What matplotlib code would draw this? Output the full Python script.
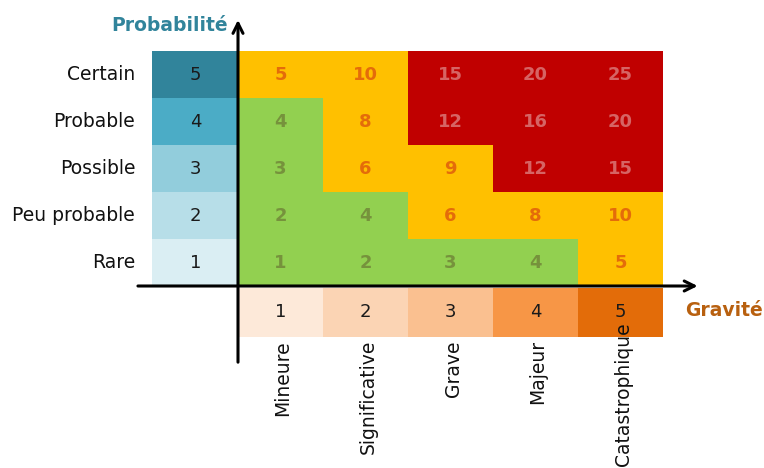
import numpy as np
import matplotlib.pyplot as plt
from matplotlib.patches import Rectangle

# Data
prob_labels = ["Rare", "Peu probable", "Possible", "Probable", "Certain"]
prob_levels = [1, 2, 3, 4, 5]
grav_labels = ["Mineure", "Significative", "Grave", "Majeur", "Catastrophique"]
grav_levels = [1, 2, 3, 4, 5]

# rows from Rare (bottom) to Certain (top)
scores = [
    [1, 2, 3, 4, 5],
    [2, 4, 6, 8, 10],
    [3, 6, 9, 12, 15],
    [4, 8, 12, 16, 20],
    [5, 10, 15, 20, 25],
]
zones = [
    ["G", "G", "G", "G", "Y"],
    ["G", "G", "Y", "Y", "Y"],
    ["G", "Y", "Y", "R", "R"],
    ["G", "Y", "R", "R", "R"],
    ["Y", "Y", "R", "R", "R"],
]

# Styles
zone_fill = {"G": "#92D050", "Y": "#FFC000", "R": "#C00000"}
zone_text = {"G": "#76923C", "Y": "#E46C0A", "R": "#D66464"}
prob_colors = ["#DAEEF3", "#B7DEE8", "#92CDDC", "#4BACC6", "#31849B"]
grav_colors = ["#FDE9D9", "#FBD4B4", "#FAC090", "#F79646", "#E36C09"]
FS = 13.5

plt.rcParams['font.family'] = ['DejaVu Sans']

fig = plt.figure(figsize=(7.64, 4.68), dpi=100)
ax = fig.add_axes([0, 0, 1, 1])
# one unit = one cell (85 x 47 px), origin at the axes crossing
ax.set_xlim(-238 / 85, (764 - 238) / 85)
ax.set_ylim(-(468 - 286) / 47, 286 / 47)
ax.axis('off')

# risk matrix
for i, row in enumerate(scores):
    for j, val in enumerate(row):
        z = zones[i][j]
        ax.add_patch(Rectangle((j, i), 1, 1, facecolor=zone_fill[z], edgecolor='none'))
        ax.text(j + 0.5, i + 0.5, str(val), ha='center', va='center',
                fontsize=13, fontweight='bold', color=zone_text[z])

# probability column
for i, (lab, lev) in enumerate(zip(prob_labels, prob_levels)):
    ax.add_patch(Rectangle((-1.01, i), 1.01, 1, facecolor=prob_colors[i], edgecolor='none'))
    ax.text(-0.5, i + 0.5, str(lev), ha='center', va='center', fontsize=13, color='#1a1a1a')
    ax.text(-1.21, i + 0.5, lab, ha='right', va='center', fontsize=FS, color='#111111')

# gravity row
for j, (lab, lev) in enumerate(zip(grav_labels, grav_levels)):
    ax.add_patch(Rectangle((j, -1.08), 1, 1.04, facecolor=grav_colors[j], edgecolor='none'))
    ax.text(j + 0.5, -0.56, str(lev), ha='center', va='center', fontsize=13, color='#1a1a1a')
    top = -1.15 if j < 4 else -0.77
    ax.text(j + 0.53, top, lab, ha='center', va='top', rotation=90,
            fontsize=FS, color='#111111')

# axes arrows
ax.annotate('', xy=(0, 5.72), xytext=(0, -1.68),
            arrowprops=dict(arrowstyle='->', lw=2.2, color='black', mutation_scale=18))
ax.annotate('', xy=(5.44, 0), xytext=(-1.21, 0),
            arrowprops=dict(arrowstyle='->', lw=2.2, color='black', mutation_scale=18))

ax.text(-0.12, 5.55, "Probabilité", ha='right', va='center', fontsize=FS,
        fontweight='bold', color='#31849B')
ax.text(5.26, -0.53, "Gravité", ha='left', va='center', fontsize=FS,
        fontweight='bold', color='#B8600F')

fig.savefig('out.png', dpi=100)
